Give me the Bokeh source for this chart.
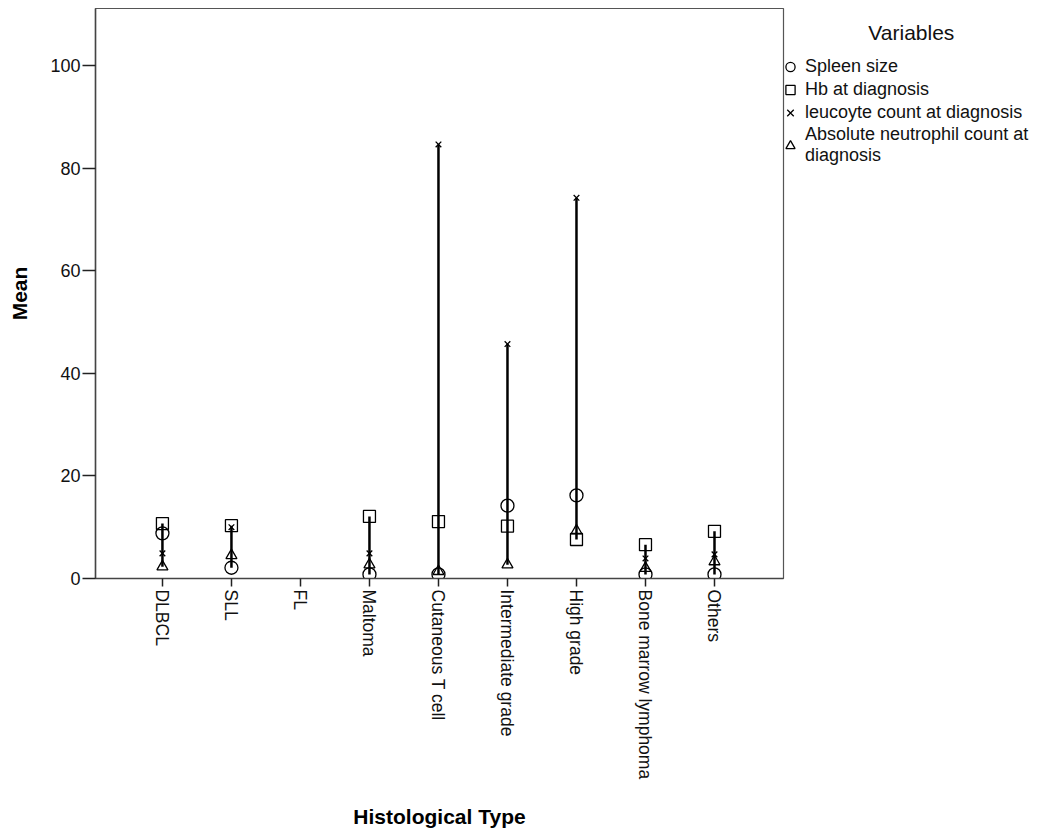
import math
from bokeh.plotting import figure
from bokeh.models import Range1d, FixedTicker, Legend, LegendItem
from bokeh.embed import file_html
from bokeh.resources import INLINE

nan = float("nan")

categories = ["DLBCL", "SLL", "FL", "Maltoma", "Cutaneous T cell",
              "Intermediate grade", "High grade", "Bone marrow lymphoma", "Others"]
spleen_size = [8.8, 2.1, nan, 0.8, 0.8, 14.2, 16.2, 0.8, 0.8]
hb_at_diagnosis = [10.7, 10.3, nan, 12.1, 11.1, 10.2, 7.6, 6.6, 9.2]
leucocyte_count = [4.9, 10.0, nan, 4.9, 84.6, 45.7, 74.2, 3.9, 4.7]
neutrophil_count = [2.3, 4.5, nan, 2.7, 1.4, 2.7, 9.3, 2.0, 3.3]
y_ticks = [0, 20, 40, 60, 80, 100]
legend_title = "Variables"

FONT = "Liberation Sans"
xs = list(range(len(categories)))

# high-low line per category
lo, hi, sx = [], [], []
for i in xs:
    vals = [v[i] for v in (spleen_size, hb_at_diagnosis, leucocyte_count, neutrophil_count)
            if not math.isnan(v[i])]
    if vals:
        sx.append(i)
        lo.append(min(vals))
        hi.append(max(vals))

p = figure(frame_width=688, frame_height=570, output_backend="svg", toolbar_location=None,
           x_range=Range1d(-0.97, 9.0), y_range=Range1d(0, 111.1),
           min_border_left=95, min_border_right=0, min_border_top=8,
           min_border_bottom=240)
p.xgrid.visible = False
p.ygrid.visible = False
p.outline_line_color = "#555555"
p.outline_line_width = 1.2

for ax in (p.xaxis[0], p.yaxis[0]):
    ax.axis_line_color = "#444444"
    ax.axis_line_width = 1.5
    ax.major_tick_line_color = "#222222"
    ax.major_tick_line_width = 1.5
    ax.major_tick_in = 0
    ax.minor_tick_line_color = None
    ax.major_label_text_font = FONT
    ax.major_label_text_color = "#111111"
    ax.axis_label_text_font = FONT
    ax.axis_label_text_font_style = "bold"
    ax.axis_label_text_font_size = "21px"
    ax.axis_label_text_color = "#000000"

p.yaxis.ticker = FixedTicker(ticks=y_ticks)
p.yaxis.axis_label = "Mean"
p.yaxis.major_tick_out = 13
p.yaxis.major_label_standoff = 2
p.yaxis.major_label_text_font_size = "18px"
p.yaxis.axis_label_standoff = 16

p.xaxis.ticker = FixedTicker(ticks=xs)
p.xaxis.major_label_overrides = {i: c for i, c in enumerate(categories)}
p.xaxis.major_label_orientation = -math.pi / 2
p.xaxis.major_tick_out = 8
p.xaxis.major_label_standoff = 3
p.xaxis.major_label_text_font_size = "17.5px"
p.xaxis.axis_label = "Histological Type"
p.xaxis.axis_label_standoff = 23

p.segment(x0=sx, y0=lo, x1=sx, y1=hi, line_color="black", line_width=2.5)

common = dict(fill_color=None, line_color="black", line_width=1.3)
r1 = p.scatter(xs, spleen_size, marker="circle", size=13, **common)
r2 = p.scatter(xs, hb_at_diagnosis, marker="square", size=12, **common)
r3 = p.scatter(xs, leucocyte_count, marker="x", size=8, **common)
r4 = p.scatter(xs, neutrophil_count, marker="triangle", size=11, **common)

legend = Legend(items=[
    LegendItem(label="Spleen size", renderers=[r1]),
    LegendItem(label="Hb at diagnosis", renderers=[r2]),
    LegendItem(label="leucoyte count at diagnosis", renderers=[r3]),
    LegendItem(label="Absolute neutrophil count at\ndiagnosis", renderers=[r4]),
], location=(-8, 412), orientation="vertical", margin=0, padding=0,
    spacing=0, glyph_width=30, glyph_height=23, label_standoff=0,
    label_text_font=FONT, label_text_font_size="18px", label_height=21,
    label_text_line_height=1.0, label_text_color="#111111",
    title="\u00a0" * 16 + legend_title, title_text_font=FONT, title_text_font_size="21px",
    title_text_font_style="normal", title_text_color="#111111", title_standoff=10,
    border_line_color=None, background_fill_color=None)
p.add_layout(legend, "right")

open("out.html", "w").write(file_html(p, INLINE))
